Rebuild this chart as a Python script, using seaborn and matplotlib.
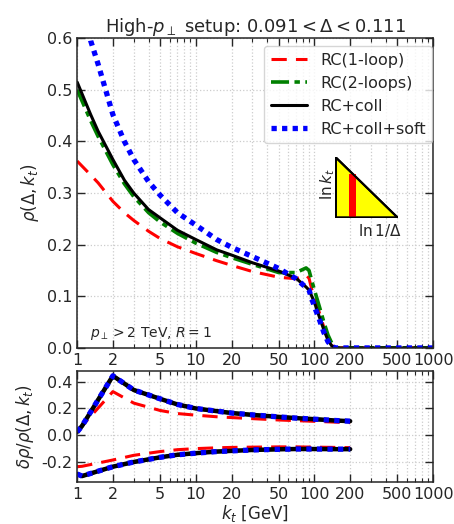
import numpy as np
import pandas as pd
import matplotlib
matplotlib.use("Agg")
import matplotlib.pyplot as plt
import matplotlib.ticker as mticker
from matplotlib.patches import Polygon, Rectangle
import seaborn as sns

# main panel: rho(Delta, kt)
kt_main = [1, 1.3, 1.5, 2, 2.5, 3, 4, 5, 7, 10, 15, 20, 30, 50, 70, 85, 90, 95, 100, 110, 120, 130, 140, 150, 200, 300, 500, 1000]
rc1 = [0.362, 0.335, 0.32, 0.284, 0.262, 0.247, 0.226, 0.212, 0.196, 0.183, 0.169, 0.160, 0.148, 0.137, 0.134, 0.141, 0.135, 0.113, 0.100, 0.068, 0.040, 0.018, 0.005, 0.0, 0.0, 0.0, 0.0, 0.0]
rc2 = [0.500, 0.440, 0.410, 0.355, 0.318, 0.293, 0.262, 0.244, 0.222, 0.203, 0.185, 0.175, 0.162, 0.146, 0.146, 0.155, 0.150, 0.130, 0.112, 0.080, 0.050, 0.025, 0.009, 0.0, 0.0, 0.0, 0.0, 0.0]
rc_coll = [0.515, 0.452, 0.420, 0.365, 0.325, 0.300, 0.268, 0.252, 0.228, 0.210, 0.190, 0.180, 0.165, 0.149, 0.135, 0.118, 0.112, 0.100, 0.088, 0.060, 0.035, 0.015, 0.004, 0.0, 0.0, 0.0, 0.0, 0.0]
rc_soft = [0.75, 0.595, 0.550, 0.452, 0.400, 0.365, 0.322, 0.296, 0.262, 0.238, 0.210, 0.195, 0.177, 0.154, 0.134, 0.117, 0.112, 0.095, 0.080, 0.055, 0.030, 0.012, 0.003, 0.0, 0.0, 0.0, 0.0, 0.0]

# lower panel: relative uncertainty bands
kt_band = [1, 1.1, 2, 3, 5, 7, 10, 15, 20, 30, 50, 70, 100, 150, 200]
rc1_up = [0.035, 0.07, 0.326, 0.240, 0.185, 0.162, 0.150, 0.138, 0.132, 0.124, 0.114, 0.109, 0.104, 0.098, 0.094]
rc1_dn = [-0.235, -0.232, -0.185, -0.150, -0.122, -0.108, -0.100, -0.094, -0.091, -0.089, -0.087, -0.087, -0.089, -0.091, -0.093]
coll_up = [0.025, 0.07, 0.444, 0.338, 0.272, 0.230, 0.200, 0.180, 0.166, 0.152, 0.137, 0.128, 0.120, 0.110, 0.105]
coll_dn = [-0.290, -0.305, -0.235, -0.200, -0.165, -0.146, -0.134, -0.122, -0.117, -0.110, -0.105, -0.103, -0.103, -0.104, -0.104]

xticks = [1, 2, 5, 10, 20, 50, 100, 200, 500, 1000]

sns.set_style("ticks")
plt.rcParams['font.family'] = ['DejaVu Sans']
plt.rcParams['mathtext.fontset'] = 'dejavusans'

fig = plt.figure(figsize=(4.54, 5.24), dpi=100)
ax = fig.add_axes([0.170, 0.336, 0.784, 0.591])
ax2 = fig.add_axes([0.170, 0.080, 0.784, 0.212])

styles = [
    ("RC(1-loop)", "red", (0, (5, 3)), 2.2),
    ("RC(2-loops)", "green", (0, (5, 1.5, 1.5, 1.5)), 2.6),
    ("RC+coll", "black", "-", 2.2),
    ("RC+coll+soft", "blue", (0, (1, 1)), 3.8),
]
main_vals = [rc1, rc2, rc_coll, rc_soft]
for (lab, col, ls, lw), vals in zip(styles, main_vals):
    sns.lineplot(x=kt_main, y=vals, ax=ax, color=col, linestyle=ls, linewidth=lw, label=lab)

band = [
    ("red", (0, (5, 3)), 2.2, rc1_up, rc1_dn),
    ("green", (0, (5, 1.5, 1.5, 1.5)), 2.6, coll_up, coll_dn),
    ("black", "-", 3.2, coll_up, coll_dn),
    ("blue", (0, (1, 1)), 3.8, coll_up, coll_dn),
]
for col, ls, lw, up, dn in band:
    sns.lineplot(x=kt_band, y=up, ax=ax2, color=col, linestyle=ls, linewidth=lw)
    sns.lineplot(x=kt_band, y=dn, ax=ax2, color=col, linestyle=ls, linewidth=lw)

for a in (ax, ax2):
    a.set_xscale("log")
    a.set_xlim(1, 1000)
    a.xaxis.set_major_locator(mticker.FixedLocator(xticks))
    a.xaxis.set_major_formatter(mticker.FixedFormatter([str(t) for t in xticks]))
    a.xaxis.set_minor_locator(mticker.LogLocator(base=10, subs=np.arange(2, 10)))
    a.xaxis.set_minor_formatter(mticker.NullFormatter())
    a.tick_params(which="both", direction="in", top=True, right=True, labelsize=11.5)
    a.tick_params(which="major", length=6, width=1)
    a.tick_params(which="minor", length=3, width=0.8)
    a.grid(True, which="both", axis="x", color="#cccccc", linestyle=":", linewidth=0.9)
    a.grid(True, which="major", axis="y", color="#cccccc", linestyle=":", linewidth=0.9)
    for s in a.spines.values():
        s.set_linewidth(1.1)

ax.set_ylim(0, 0.6)
ax.set_yticks([0.0, 0.1, 0.2, 0.3, 0.4, 0.5, 0.6])
ax.yaxis.set_major_formatter(mticker.FormatStrFormatter("%.1f"))
ax.set_ylabel(r"$\rho(\Delta, k_t)$", fontsize=12)
ax.set_xlabel("")
ax.set_title(r"High-$p_\perp$ setup: $0.091 < \Delta < 0.111$", fontsize=13, pad=3)
ax.text(0.035, 0.035, r"$p_\perp > 2$ TeV, $R=1$", transform=ax.transAxes, fontsize=10)
ax.legend(loc="upper right", bbox_to_anchor=(0.997, 0.974), borderaxespad=0,
          fontsize=11.5, handlelength=2.3, framealpha=0.8)

ax2.set_ylim(-0.35, 0.48)
ax2.set_yticks([-0.2, 0.0, 0.2, 0.4])
ax2.yaxis.set_major_formatter(mticker.FormatStrFormatter("%.1f"))
ax2.set_ylabel(r"$\delta\rho/\rho(\Delta, k_t)$", fontsize=12)
ax2.set_xlabel(r"$k_t$ [GeV]", fontsize=12, labelpad=1)

# inset sketch of the Lund plane region
ins = ax.inset_axes([0.725, 0.419, 0.177, 0.198])
ins.add_patch(Polygon([[0, 0], [1, 0], [0, 1]], closed=True, facecolor="yellow", edgecolor="black", linewidth=1.5))
ins.add_patch(Rectangle((0.22, 0), 0.10, 0.72, facecolor="red", edgecolor="none"))
ins.plot([0, 1, 0, 0], [0, 0, 1, 0], color="black", linewidth=1.5)
ins.set_xlim(-0.01, 1.01)
ins.set_ylim(-0.01, 1.01)
ins.axis("off")
ins.text(-0.12, 0.55, r"$\ln k_t$", rotation=90, ha="center", va="center", fontsize=11, transform=ins.transAxes)
ins.text(0.7, -0.2, r"$\ln 1/\Delta$", ha="center", va="center", fontsize=11, transform=ins.transAxes)

fig.savefig("out.png", dpi=100)
